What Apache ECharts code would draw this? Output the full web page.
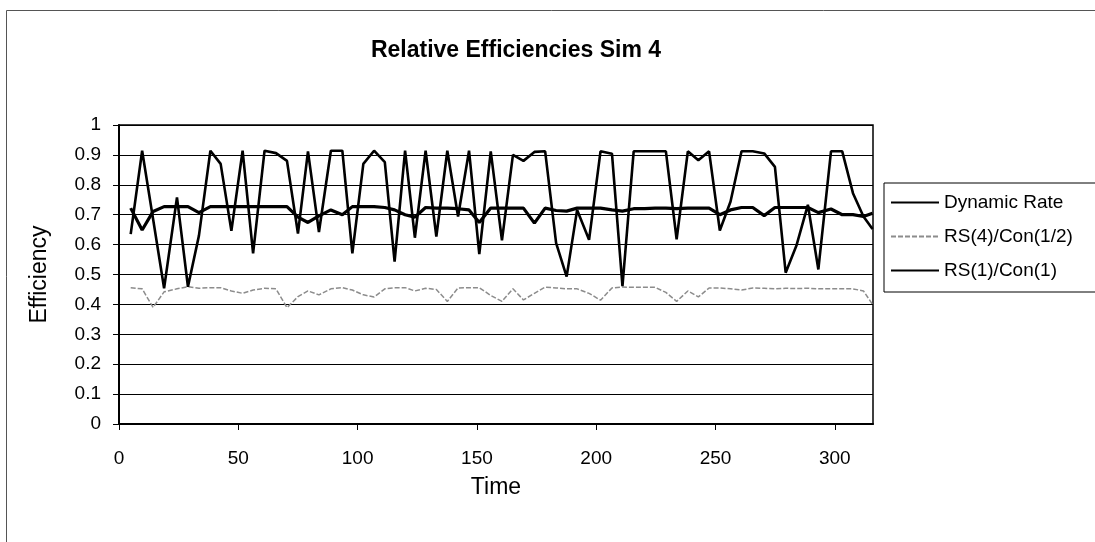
<!DOCTYPE html>
<html>
<head>
<meta charset="utf-8">
<script src="https://cdn.jsdelivr.net/npm/echarts@6/dist/echarts.min.js"></script>
<style>
  html, body { margin: 0; padding: 0; background: #fff; }
  #container { width: 1095px; height: 542px; }
</style>
</head>
<body>
<div id="container"></div>
<script>
// time points
const times = [4.9, 9.7, 14.3, 18.9, 24.3, 28.9, 33.5, 38.3, 42.6, 47.1, 51.8, 56.2, 61, 65.8, 70.4,
  75, 79.2, 83.8, 88.8, 93.6, 97.8, 102.4, 106.9, 111.4, 115.5, 119.9, 124, 128.5, 133, 137.6,
  142.1, 146.7, 151, 155.8, 160.5, 165.1, 169.5, 174.1, 178.6, 183.2, 187.6, 192, 197, 201.8,
  206.6, 211, 215.7, 220.3, 224.7, 229.2, 233.7, 238.4, 242.8, 247.3, 251.8, 256.3, 260.9,
  265.6, 270.4, 274.9, 279.4, 284, 288.7, 293.1, 298.4, 303.1, 307.6, 312, 315.8];

const dynamicRate = [0.722, 0.649, 0.711, 0.727, 0.727, 0.727, 0.707, 0.727, 0.727, 0.727, 0.727,
  0.727, 0.727, 0.727, 0.727, 0.692, 0.674, 0.696, 0.716, 0.70, 0.727, 0.727, 0.727, 0.724, 0.716,
  0.70, 0.692, 0.724, 0.722, 0.722, 0.72, 0.716, 0.674, 0.722, 0.722, 0.722, 0.722, 0.672, 0.722,
  0.714, 0.712, 0.722, 0.722, 0.722, 0.716, 0.712, 0.72, 0.72, 0.722, 0.722, 0.72, 0.722, 0.722,
  0.722, 0.70, 0.716, 0.724, 0.724, 0.697, 0.724, 0.724, 0.724, 0.724, 0.707, 0.719, 0.70, 0.70,
  0.694, 0.705];

const rs4Con12 = [0.456, 0.452, 0.39, 0.442, 0.452, 0.459, 0.454, 0.456, 0.456, 0.445, 0.437,
  0.448, 0.454, 0.452, 0.389, 0.426, 0.445, 0.432, 0.452, 0.456, 0.448, 0.432, 0.425, 0.452, 0.456,
  0.456, 0.445, 0.454, 0.45, 0.41, 0.455, 0.456, 0.456, 0.43, 0.41, 0.452, 0.415, 0.437, 0.458,
  0.455, 0.452, 0.452, 0.437, 0.414, 0.455, 0.458, 0.457, 0.457, 0.457, 0.44, 0.41, 0.445, 0.425,
  0.455, 0.455, 0.452, 0.448, 0.455, 0.454, 0.452, 0.454, 0.453, 0.454, 0.452, 0.452, 0.452, 0.452,
  0.445, 0.40];

const rs1Con1 = [0.635, 0.914, 0.685, 0.454, 0.758, 0.459, 0.63, 0.914, 0.87, 0.646, 0.914, 0.571,
  0.914, 0.906, 0.88, 0.637, 0.912, 0.642, 0.914, 0.914, 0.571, 0.87, 0.914, 0.876, 0.543, 0.914,
  0.623, 0.914, 0.627, 0.914, 0.694, 0.914, 0.568, 0.912, 0.614, 0.90, 0.88, 0.91, 0.912, 0.605,
  0.493, 0.716, 0.616, 0.912, 0.904, 0.461, 0.912, 0.912, 0.912, 0.912, 0.618, 0.912, 0.882, 0.912,
  0.647, 0.744, 0.912, 0.912, 0.905, 0.86, 0.506, 0.599, 0.733, 0.517, 0.912, 0.912, 0.772, 0.694,
  0.652];

const seriesNames = ["Dynamic Rate", "RS(4)/Con(1/2)", "RS(1)/Con(1)"];

const pairs = (vals) => times.map((t, i) => [t, vals[i]]);
const font = "Liberation Sans, Arial, sans-serif";

const chart = echarts.init(document.getElementById("container"), null, { renderer: "canvas" });

chart.setOption({
  animation: false,
  backgroundColor: "#fff",
  title: {
    text: "Relative Efficiencies Sim 4",
    left: 511,
    top: 34,
    textAlign: "center",
    textStyle: { fontFamily: font, fontSize: 23, fontWeight: "bold", color: "#000" },
  },
  graphic: [
    {
      type: "rect",
      left: 4,
      top: 8,
      shape: { width: 1200, height: 600 },
      style: { fill: "none", stroke: "#555", lineWidth: 1 },
      silent: true,
    },
  ],
  legend: {
    orient: "vertical",
    left: 884,
    top: 183,
    padding: [10, 40, 12, 6],
    itemWidth: 48,
    itemHeight: 14,
    itemGap: 15,
    borderColor: "#000",
    borderWidth: 1,
    itemStyle: { opacity: 0 },
    textStyle: { fontFamily: font, fontSize: 19, color: "#000" },
    data: seriesNames,
  },
  grid: {
    left: 119,
    right: 222,
    top: 125,
    bottom: 118,
    show: true,
    borderColor: "#000",
    borderWidth: 1.5,
  },
  xAxis: {
    type: "value",
    min: 0,
    max: 316,
    interval: 50,
    name: "Time",
    nameLocation: "middle",
    nameGap: 52,
    nameTextStyle: { fontFamily: font, fontSize: 23, color: "#000" },
    axisLine: { lineStyle: { color: "#000", width: 2 } },
    axisTick: { show: true, length: 6, lineStyle: { color: "#000" } },
    axisLabel: { showMaxLabel: false, margin: 25, fontFamily: font, fontSize: 19, color: "#000" },
    splitLine: { show: false },
  },
  yAxis: {
    type: "value",
    min: 0,
    max: 1,
    interval: 0.1,
    name: "Efficiency",
    nameLocation: "middle",
    nameGap: 68,
    nameTextStyle: { fontFamily: font, fontSize: 23, color: "#000" },
    axisLine: { show: true, lineStyle: { color: "#000", width: 2 } },
    axisTick: { show: true, length: 6, lineStyle: { color: "#000" } },
    axisLabel: { margin: 18, fontFamily: font, fontSize: 19, color: "#000" },
    splitLine: { lineStyle: { color: "#000", width: 1 } },
  },
  series: [
    {
      name: seriesNames[0],
      type: "line",
      data: pairs(dynamicRate),
      symbol: "none",
      lineStyle: { color: "#000", width: 3.2 },
      itemStyle: { color: "#000" },
      z: 3,
    },
    {
      name: seriesNames[1],
      type: "line",
      data: pairs(rs4Con12),
      symbol: "none",
      lineStyle: { color: "#8c8c8c", width: 1.5, type: [5, 2] },
      itemStyle: { color: "#8c8c8c" },
      z: 2,
    },
    {
      name: seriesNames[2],
      type: "line",
      data: pairs(rs1Con1),
      symbol: "none",
      lineStyle: { color: "#000", width: 2.6 },
      itemStyle: { color: "#000" },
      z: 4,
    },
  ],
});

window.addEventListener("resize", chart.resize);
</script>
</body>
</html>
